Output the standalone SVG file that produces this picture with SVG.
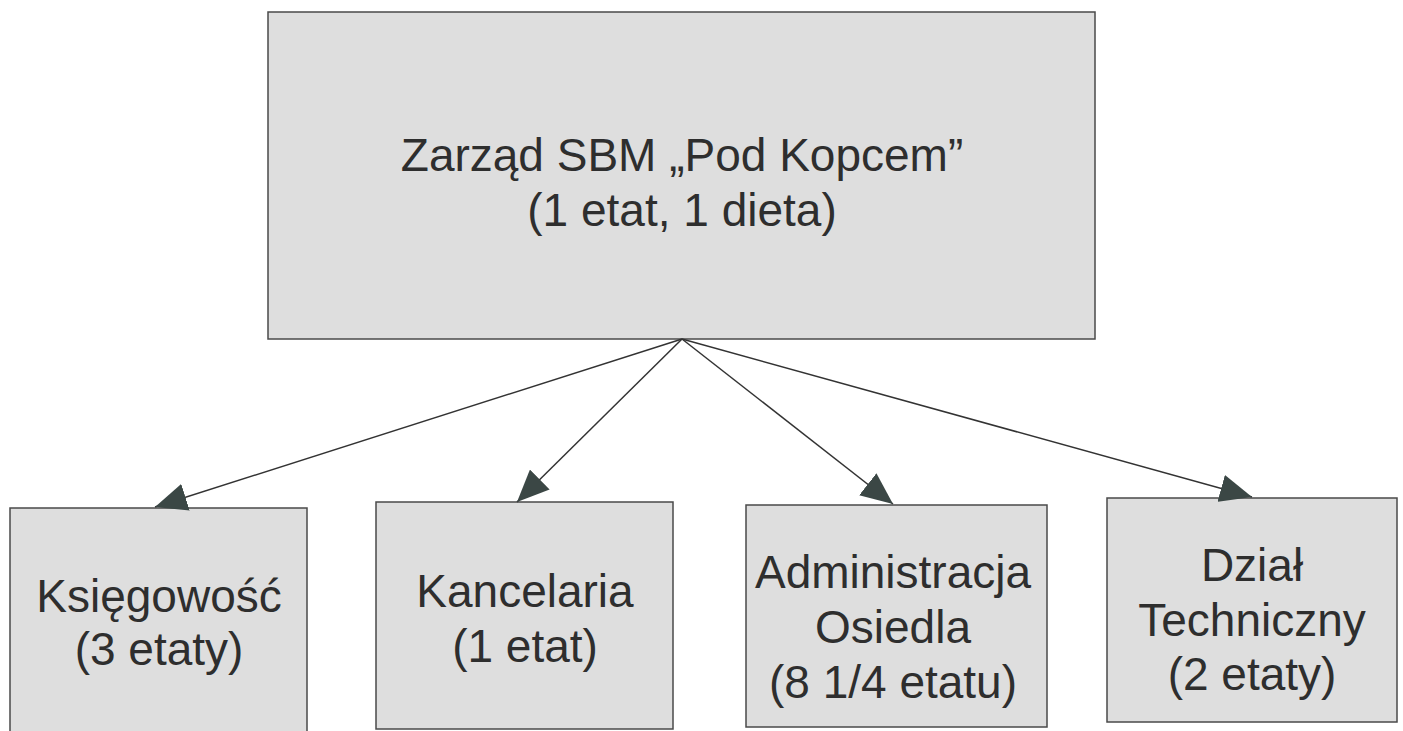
<svg xmlns="http://www.w3.org/2000/svg" width="1403" height="731" viewBox="0 0 1403 731">
<style>
.box{fill:#dedede;stroke:#4a4a4a;stroke-width:1.5}
.t{font-family:"Liberation Sans",Arial,sans-serif;font-size:46px;fill:#2e2e2e;text-anchor:middle}
.c{stroke:#333;stroke-width:1.5;fill:none}
</style>
<defs>
<marker id="ah" markerUnits="userSpaceOnUse" markerWidth="34" markerHeight="28" refX="32" refY="14" orient="auto">
<path d="M0,0 L32,14 L0,28 Z" fill="#3b4745"/>
</marker>
</defs>
<rect width="1403" height="731" fill="#ffffff"/>
<g id="zarzad">
<rect class="box" x="268" y="12" width="827" height="327"/>
<text class="t" x="682" y="171">Zarząd SBM „Pod Kopcem”</text>
<text class="t" x="682" y="226">(1 etat, 1 dieta)</text>
</g>
<g id="ksiegowosc">
<rect class="box" x="10" y="508" width="297" height="230"/>
<text class="t" x="159" y="612">Księgowość</text>
<text class="t" x="159" y="665">(3 etaty)</text>
</g>
<g id="kancelaria">
<rect class="box" x="376" y="502" width="297" height="227"/>
<text class="t" x="525" y="607">Kancelaria</text>
<text class="t" x="525" y="662">(1 etat)</text>
</g>
<g id="administracja">
<rect class="box" x="746" y="505" width="301" height="222"/>
<text class="t" x="893" y="588">Administracja</text>
<text class="t" x="893" y="643">Osiedla</text>
<text class="t" x="893" y="698">(8 1/4 etatu)</text>
</g>
<g id="dzial">
<rect class="box" x="1107" y="498" width="290" height="224"/>
<text class="t" x="1252" y="581">Dział</text>
<text class="t" x="1252" y="636">Techniczny</text>
<text class="t" x="1252" y="690">(2 etaty)</text>
</g>
<g id="connectors">
<line class="c" x1="682" y1="339" x2="155" y2="507" marker-end="url(#ah)"/>
<line class="c" x1="682" y1="339" x2="517" y2="502" marker-end="url(#ah)"/>
<line class="c" x1="682" y1="339" x2="893" y2="504" marker-end="url(#ah)"/>
<line class="c" x1="682" y1="339" x2="1252" y2="497" marker-end="url(#ah)"/>
</g>
</svg>
